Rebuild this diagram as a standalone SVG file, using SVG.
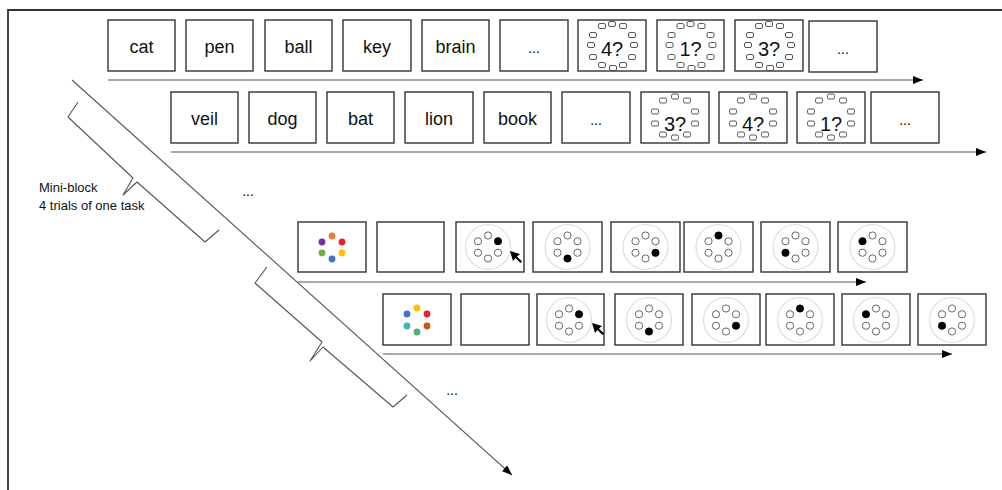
<svg xmlns="http://www.w3.org/2000/svg" width="1002" height="490" viewBox="0 0 1002 490">
<style>
.box{fill:#fff;stroke:#333;stroke-width:1.4}
.w{font-family:"Liberation Sans",Arial,sans-serif;font-size:18px;fill:#111;text-anchor:middle}
.n{font-family:"Liberation Sans",Arial,sans-serif;font-size:20px;fill:#111;text-anchor:middle}
.d{font-family:"Liberation Sans",Arial,sans-serif;font-size:14px;fill:#000;text-anchor:middle}
.lbl{font-family:"Liberation Sans",Arial,sans-serif;font-size:13px;fill:#111}
.ax{stroke:#555;stroke-width:1.1;fill:none}
.br{stroke:#555;stroke-width:1.1;fill:none;stroke-linejoin:round}
.sr{fill:#fff;stroke:#444;stroke-width:0.9}
.big{fill:none;stroke:#ddd;stroke-width:1.2}
.sc{fill:#fff;stroke:#555;stroke-width:0.9}
.bk{fill:#000}
</style>
<defs>
<marker id="ah" markerUnits="userSpaceOnUse" markerWidth="10" markerHeight="8" refX="10" refY="4" orient="auto">
<path d="M0,0 L10,4 L0,8 z" fill="#000"/>
</marker>
<g id="sq"><rect x="-3.5" y="-2.5" width="7" height="5" rx="1.5" class="sr"/></g>
<g id="rim12">
<use href="#sq" x="0" y="-22"/><use href="#sq" x="-10" y="-20"/><use href="#sq" x="11" y="-20"/>
<use href="#sq" x="-19" y="-11"/><use href="#sq" x="20" y="-11"/>
<use href="#sq" x="-21" y="-1"/><use href="#sq" x="22" y="-1"/>
<use href="#sq" x="-19" y="11"/><use href="#sq" x="20" y="11"/>
<use href="#sq" x="-10" y="19"/><use href="#sq" x="1" y="22"/><use href="#sq" x="11" y="19"/>
</g>
<g id="rim10">
<use href="#sq" x="0" y="-21"/><use href="#sq" x="-12" y="-17"/><use href="#sq" x="12" y="-17"/>
<use href="#sq" x="-20" y="-6"/><use href="#sq" x="20" y="-6"/>
<use href="#sq" x="-20" y="6"/><use href="#sq" x="20" y="6"/>
<use href="#sq" x="-12" y="17"/><use href="#sq" x="0" y="20"/><use href="#sq" x="12" y="17"/>
</g>
<g id="ring">
<circle r="22.5" class="big"/>
<circle cx="0" cy="-11.5" r="3.6" class="sc"/>
<circle cx="10" cy="-5.75" r="3.6" class="sc"/>
<circle cx="10" cy="5.75" r="3.6" class="sc"/>
<circle cx="0" cy="11.5" r="3.6" class="sc"/>
<circle cx="-10" cy="5.75" r="3.6" class="sc"/>
<circle cx="-10" cy="-5.75" r="3.6" class="sc"/>
</g>
<polygon id="cur" points="0,0 10,3 7,5.5 12,10.5 10.5,12 5.5,7 3,10" fill="#000"/>
</defs>

<rect width="1002" height="490" fill="#fff"/>
<path d="M8,490 V10 H1002" fill="none" stroke="#333" stroke-width="1.8"/>

<g id="connectors">
<line x1="108" y1="80" x2="923" y2="80" class="ax" marker-end="url(#ah)"/>
<line x1="171" y1="152" x2="986" y2="152" class="ax" marker-end="url(#ah)"/>
<line x1="298" y1="282" x2="866" y2="282" class="ax" marker-end="url(#ah)"/>
<line x1="383" y1="354" x2="952" y2="354" class="ax" marker-end="url(#ah)"/>
<line x1="72" y1="80" x2="512" y2="475" class="ax" marker-end="url(#ah)"/>
<polyline class="br" points="78,102 68,117 133,178 123,195 137,182 205,242 219,230"/>
<polyline class="br" points="267,267 255,283 322,342 310,361 323,347 393,407 407,395"/>
</g>

<g id="label">
<text class="lbl" x="39" y="192">Mini-block</text>
<text class="lbl" x="39" y="210">4 trials of one task</text>
<text class="d" x="248" y="196">...</text>
<text class="d" x="452" y="395">...</text>
</g>

<g id="row1">
<g id="r1-cat"><rect class="box" x="108" y="20" width="67" height="51"/><text class="w" x="141.5" y="53">cat</text></g>
<g id="r1-pen"><rect class="box" x="186" y="20" width="67" height="51"/><text class="w" x="219.5" y="53">pen</text></g>
<g id="r1-ball"><rect class="box" x="265" y="20" width="67" height="51"/><text class="w" x="298.5" y="53">ball</text></g>
<g id="r1-key"><rect class="box" x="343" y="20" width="68" height="51"/><text class="w" x="377" y="53">key</text></g>
<g id="r1-brain"><rect class="box" x="422" y="20" width="67" height="51"/><text class="w" x="455.5" y="53">brain</text></g>
<g id="r1-dots"><rect class="box" x="500" y="20" width="68" height="51"/><text class="d" x="534" y="53">...</text></g>
<g id="r1-n4"><rect class="box" x="578" y="20" width="68" height="51"/><use href="#rim12" x="612" y="46"/><text class="n" x="612" y="56">4?</text></g>
<g id="r1-n1"><rect class="box" x="657" y="20" width="67" height="51"/><use href="#rim12" x="690.5" y="46"/><text class="n" x="690.5" y="56">1?</text></g>
<g id="r1-n3"><rect class="box" x="735" y="20" width="68" height="51"/><use href="#rim12" x="769" y="46"/><text class="n" x="769" y="56">3?</text></g>
<g id="r1-end"><rect class="box" x="809" y="21" width="68" height="51"/><text class="d" x="843" y="54">...</text></g>
</g>

<g id="row2">
<g id="r2-veil"><rect class="box" x="171" y="92" width="67" height="51"/><text class="w" x="204.5" y="125">veil</text></g>
<g id="r2-dog"><rect class="box" x="249" y="92" width="67" height="51"/><text class="w" x="282.5" y="125">dog</text></g>
<g id="r2-bat"><rect class="box" x="327" y="92" width="67" height="51"/><text class="w" x="360.5" y="125">bat</text></g>
<g id="r2-lion"><rect class="box" x="405" y="92" width="68" height="51"/><text class="w" x="439" y="125">lion</text></g>
<g id="r2-book"><rect class="box" x="484" y="92" width="67" height="51"/><text class="w" x="517.5" y="125">book</text></g>
<g id="r2-dots"><rect class="box" x="562" y="92" width="68" height="51"/><text class="d" x="596" y="125">...</text></g>
<g id="r2-n3"><rect class="box" x="641" y="92" width="68" height="51"/><use href="#rim10" x="675" y="117.5"/><text class="n" x="675" y="131">3?</text></g>
<g id="r2-n4"><rect class="box" x="719" y="92" width="68" height="51"/><use href="#rim10" x="753" y="117.5"/><text class="n" x="753" y="131">4?</text></g>
<g id="r2-n1"><rect class="box" x="797" y="92" width="68" height="51"/><use href="#rim10" x="831" y="117.5"/><text class="n" x="831" y="131">1?</text></g>
<g id="r2-end"><rect class="box" x="871" y="92" width="68" height="51"/><text class="d" x="905" y="125">...</text></g>
</g>

<g id="row3">
<g id="r3-colors"><rect class="box" x="298" y="222" width="68" height="50"/>
<circle cx="332" cy="236" r="3.4" fill="#ED7D31"/>
<circle cx="342" cy="242" r="3.4" fill="#E8222A"/>
<circle cx="342" cy="253" r="3.4" fill="#FFC000"/>
<circle cx="332" cy="259" r="3.4" fill="#4472C4"/>
<circle cx="322" cy="253" r="3.4" fill="#70AD47"/>
<circle cx="322" cy="242" r="3.4" fill="#7030A0"/>
</g>
<g id="r3-blank"><rect class="box" x="377" y="222" width="67" height="50"/></g>
<g id="r3-c1"><rect class="box" x="456" y="222" width="68" height="50"/><use href="#ring" x="488" y="247"/><circle cx="498" cy="241.25" r="3.8" class="bk"/><use href="#cur" x="510" y="251"/></g>
<g id="r3-c2"><rect class="box" x="533" y="222" width="69" height="50"/><use href="#ring" x="567.5" y="247"/><circle cx="567.5" cy="258.5" r="3.8" class="bk"/></g>
<g id="r3-c3"><rect class="box" x="611" y="222" width="69" height="50"/><use href="#ring" x="645.5" y="247"/><circle cx="655.5" cy="252.75" r="3.8" class="bk"/></g>
<g id="r3-c4"><rect class="box" x="684" y="222" width="69" height="50"/><use href="#ring" x="718.5" y="247"/><circle cx="718.5" cy="235.5" r="3.8" class="bk"/></g>
<g id="r3-c5"><rect class="box" x="761" y="222" width="69" height="50"/><use href="#ring" x="795.5" y="247"/><circle cx="785.5" cy="252.75" r="3.8" class="bk"/></g>
<g id="r3-c6"><rect class="box" x="838" y="222" width="69" height="50"/><use href="#ring" x="872.5" y="247"/><circle cx="862.5" cy="241.25" r="3.8" class="bk"/></g>
</g>

<g id="row4">
<g id="r4-colors"><rect class="box" x="383" y="294" width="68" height="51"/>
<circle cx="417" cy="308" r="3.4" fill="#FFC000"/>
<circle cx="427" cy="314" r="3.4" fill="#E8222A"/>
<circle cx="427" cy="326" r="3.4" fill="#C55A11"/>
<circle cx="417" cy="332" r="3.4" fill="#4CB273"/>
<circle cx="407" cy="326" r="3.4" fill="#3DB7C4"/>
<circle cx="407" cy="314" r="3.4" fill="#4472C4"/>
</g>
<g id="r4-blank"><rect class="box" x="461" y="294" width="68" height="51"/></g>
<g id="r4-c1"><rect class="box" x="537" y="294" width="67" height="51"/><use href="#ring" x="569" y="320"/><circle cx="579" cy="314.25" r="3.8" class="bk"/><use href="#cur" x="592" y="323"/></g>
<g id="r4-c2"><rect class="box" x="615" y="294" width="68" height="51"/><use href="#ring" x="649" y="320"/><circle cx="649" cy="331.5" r="3.8" class="bk"/></g>
<g id="r4-c3"><rect class="box" x="692" y="294" width="68" height="51"/><use href="#ring" x="726" y="320"/><circle cx="736" cy="325.75" r="3.8" class="bk"/></g>
<g id="r4-c4"><rect class="box" x="766" y="294" width="68" height="51"/><use href="#ring" x="800" y="320"/><circle cx="800" cy="308.5" r="3.8" class="bk"/></g>
<g id="r4-c5"><rect class="box" x="842" y="294" width="68" height="51"/><use href="#ring" x="876" y="320"/><circle cx="866" cy="314.25" r="3.8" class="bk"/></g>
<g id="r4-c6"><rect class="box" x="918" y="294" width="68" height="51"/><use href="#ring" x="952" y="320"/><circle cx="942" cy="325.75" r="3.8" class="bk"/></g>
</g>
</svg>
